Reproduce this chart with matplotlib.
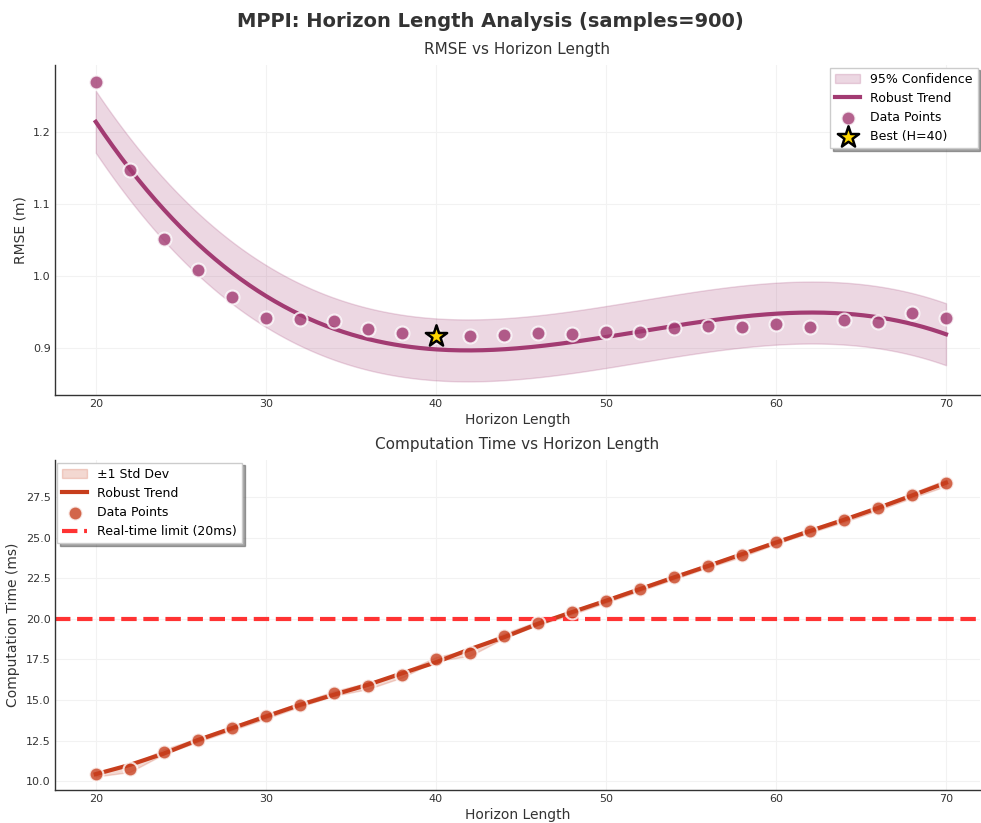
import numpy as np
import pandas as pd
import matplotlib
matplotlib.use('Agg')
import matplotlib.pyplot as plt

# Horizon lengths tested
horizons = [20, 22, 24, 26, 28, 30, 32, 34, 36, 38, 40, 42, 44,
            46, 48, 50, 52, 54, 56, 58, 60, 62, 64, 66, 68, 70]

# RMSE per horizon (m)
rmse = [1.270, 1.148, 1.052, 1.009, 0.971, 0.942, 0.940, 0.938, 0.927,
        0.921, 0.9167, 0.9176, 0.919, 0.921, 0.920, 0.923, 0.923, 0.928,
        0.931, 0.929, 0.933, 0.929, 0.939, 0.937, 0.949, 0.942]

# robust trend read at a few horizons (used to build the smooth curve)
trend_h = [20, 22, 24, 30, 32, 40, 44, 50, 54, 60, 62, 66, 70]
trend_rmse = [1.210, 1.149, 1.103, 0.963, 0.947, 0.901, 0.901, 0.915,
              0.928, 0.948, 0.951, 0.943, 0.919]
conf_halfwidth = 0.043

# Computation time per horizon (ms) and its std dev
comp_time = [10.43, 10.76, 11.81, 12.53, 13.25, 13.99, 14.70, 15.40, 15.87,
             16.53, 17.52, 17.91, 18.95, 19.73, 20.39, 21.11, 21.83, 22.55,
             23.27, 23.94, 24.73, 25.42, 26.08, 26.80, 27.60, 28.38]
comp_std = [0.15, 0.20, 0.15, 0.12, 0.12, 0.15, 0.12, 0.15, 0.20,
            0.15, 0.12, 0.20, 0.15, 0.12, 0.12, 0.12, 0.12, 0.12,
            0.12, 0.12, 0.12, 0.12, 0.12, 0.12, 0.15, 0.20]
realtime_limit = 20.0
best_h = 40

plt.rcParams['font.family'] = ['DejaVu Sans']

fig = plt.figure(figsize=(9.81, 8.23), dpi=100)
ax1 = fig.add_axes([0.056, 0.520, 0.943, 0.401])
ax2 = fig.add_axes([0.056, 0.040, 0.943, 0.401])

purple = '#A23B72'
orange = '#C73E1D'

def style_axis(ax):
    ax.grid(True, color='#F2F2F2', linewidth=0.8)
    ax.set_axisbelow(True)
    for s in ['top', 'right']:
        ax.spines[s].set_visible(False)
    for s in ['left', 'bottom']:
        ax.spines[s].set_color('#333333')
        ax.spines[s].set_linewidth(1.0)
    ax.tick_params(length=0, labelsize=8, colors='#333333', pad=3)
    ax.xaxis.labelpad = 3

# --- RMSE panel ---
x = np.array(horizons)
coef = np.polyfit(trend_h, trend_rmse, 3)
xs = np.linspace(x.min(), x.max(), 300)
ys = np.polyval(coef, xs)

ax1.fill_between(xs, ys - conf_halfwidth, ys + conf_halfwidth,
                 color=purple, alpha=0.2, label='95% Confidence')
ax1.plot(xs, ys, color=purple, linewidth=3, label='Robust Trend')
ax1.scatter(x, rmse, s=100, color=purple, alpha=0.8, edgecolor='white',
            linewidth=1.5, zorder=3, label='Data Points')
bi = horizons.index(best_h)
ax1.scatter([best_h], [rmse[bi]], marker='*', s=260, color='#FFD700',
            edgecolor='black', linewidth=1.8, zorder=4, label=f'Best (H={best_h})')
ax1.set_xlim(17.6, 72.0)
ax1.set_ylim(0.835, 1.293)
ax1.set_yticks([0.9, 1.0, 1.1, 1.2])
ax1.set_xticks([20, 30, 40, 50, 60, 70])
ax1.set_xlabel('Horizon Length', fontsize=10, color='#333333')
ax1.set_ylabel('RMSE (m)', fontsize=10, color='#333333')
ax1.set_title('RMSE vs Horizon Length', fontsize=11, color='#333333', pad=8)
style_axis(ax1)
ax1.legend(loc='upper right', fontsize=9, shadow=True, fancybox=False,
           framealpha=1, edgecolor='#CCCCCC', borderaxespad=0.2)

# --- Computation time panel ---
ct = pd.Series(comp_time)
ct_trend = ct.rolling(3, center=True, min_periods=1).mean()
ct_trend.iloc[0] = comp_time[0]
ct_trend.iloc[-1] = comp_time[-1]
ct_lo = np.array(comp_time) - np.array(comp_std)
ct_hi = np.array(comp_time) + np.array(comp_std)

ax2.fill_between(x, ct_lo, ct_hi, color=orange, alpha=0.2, label='±1 Std Dev')
ax2.plot(x, ct_trend, color=orange, linewidth=3, label='Robust Trend')
ax2.scatter(x, comp_time, s=100, color=orange, alpha=0.8, edgecolor='white',
            linewidth=1.5, zorder=3, label='Data Points')
ax2.axhline(realtime_limit, color='#FF3333', linestyle='--', linewidth=3,
            label='Real-time limit (20ms)', zorder=2)
ax2.set_xlim(17.6, 72.0)
ax2.set_ylim(9.45, 29.78)
ax2.set_yticks([10.0, 12.5, 15.0, 17.5, 20.0, 22.5, 25.0, 27.5])
ax2.set_xticks([20, 30, 40, 50, 60, 70])
ax2.set_xlabel('Horizon Length', fontsize=10, color='#333333')
ax2.set_ylabel('Computation Time (ms)', fontsize=10, color='#333333')
ax2.set_title('Computation Time vs Horizon Length', fontsize=11, color='#333333', pad=8)
style_axis(ax2)
ax2.legend(loc='upper left', fontsize=9, shadow=True, fancybox=False,
           framealpha=1, edgecolor='#CCCCCC', borderaxespad=0.2)

fig.suptitle('MPPI: Horizon Length Analysis (samples=900)', fontsize=14,
             fontweight='bold', color='#333333', y=0.985)

fig.savefig('out.png', dpi=100)
